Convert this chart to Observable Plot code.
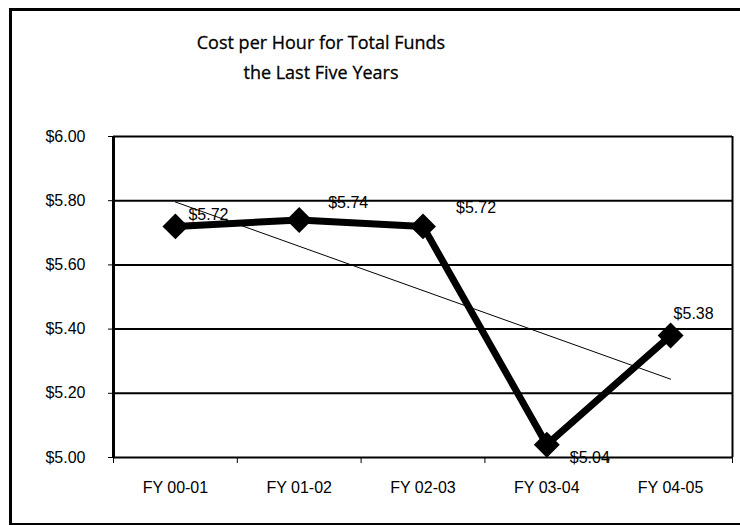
<!DOCTYPE html>
<html><head><meta charset="utf-8">
<script src="https://cdn.jsdelivr.net/npm/d3@7"></script>
<script src="https://cdn.jsdelivr.net/npm/@observablehq/plot@0.6"></script>
<style>
body{margin:0;background:#fff;overflow:hidden;}
#wrap{position:relative;width:740px;height:525px;overflow:hidden;background:#fff;}
#frame{position:absolute;left:9px;top:8px;width:800px;height:512px;border-left:3px solid #000;border-top:3px solid #000;border-bottom:2px solid #000;border-right:none;}
#title{position:absolute;left:161px;top:27px;width:320px;text-align:center;font-family:"Open Sans",sans-serif;font-size:18px;line-height:30px;color:#000;-webkit-text-stroke:0.3px #000;}
#chart{position:absolute;left:0;top:0;}
</style></head>
<body>
<div id="wrap">
  <div id="frame"></div>
  <div id="title">Cost per Hour for Total Funds<br>the Last Five Years</div>
  <div id="chart"></div>
</div>
<script>
const categories = ["FY 00-01", "FY 01-02", "FY 02-03", "FY 03-04", "FY 04-05"];
const values = [5.72, 5.74, 5.72, 5.04, 5.38];
const yTicks = [5.0, 5.2, 5.4, 5.6, 5.8, 6.0];

const data = categories.map((c, i) => ({i, cat: c, value: values[i]}));
const fmt = v => "$" + v.toFixed(2);
const bounds = d3.range(categories.length + 1).map(k => k - 0.5);
const labelOffsets = [[33, -12], [49, -17], [53, -19], [43, 13], [23, -22]];

const labelMarks = labelOffsets.map(([dx, dy], k) =>
  Plot.text(data, {filter: d => d.i === k, x: "i", y: "value", text: d => fmt(d.value), dx, dy, fontSize: 16, fill: "black"})
);

const chart = Plot.plot({
  width: 740, height: 525,
  marginLeft: 113, marginRight: 8, marginTop: 136, marginBottom: 68,
  x: {type: "linear", domain: [-0.5, categories.length - 0.5], label: null},
  y: {domain: [5, 6], label: null},
  style: {fontFamily: "'Liberation Sans', Arial, sans-serif", fontSize: "16px", background: "transparent", color: "black", overflow: "hidden"},
  marks: [
    Plot.ruleY(yTicks, {stroke: "black", strokeWidth: 2}),
    Plot.ruleX([categories.length - 0.5], {stroke: "black", strokeWidth: 2}),
    Plot.ruleX([-0.5], {stroke: "black", strokeWidth: 3}),
    Plot.axisY(yTicks, {tickFormat: fmt, tickSize: 5, tickPadding: 23, fontSize: 16, stroke: "black", label: null}),
    Plot.axisX(bounds, {tickSize: 6, tickFormat: () => "", stroke: "black", label: null}),
    Plot.axisX(d3.range(categories.length), {tickSize: 0, tickPadding: 24, tickFormat: i => categories[i], fontSize: 16, label: null}),
    Plot.linearRegressionY(data, {x: "i", y: "value", ci: 0, stroke: "black", strokeWidth: 1}),
    Plot.line(data, {x: "i", y: "value", stroke: "black", strokeWidth: 7}),
    Plot.dot(data, {x: "i", y: "value", symbol: "square", rotate: 45, r: 9.5, fill: "black", stroke: "black"}),
    ...labelMarks
  ]
});
document.getElementById("chart").appendChild(chart);
</script>
</body></html>
